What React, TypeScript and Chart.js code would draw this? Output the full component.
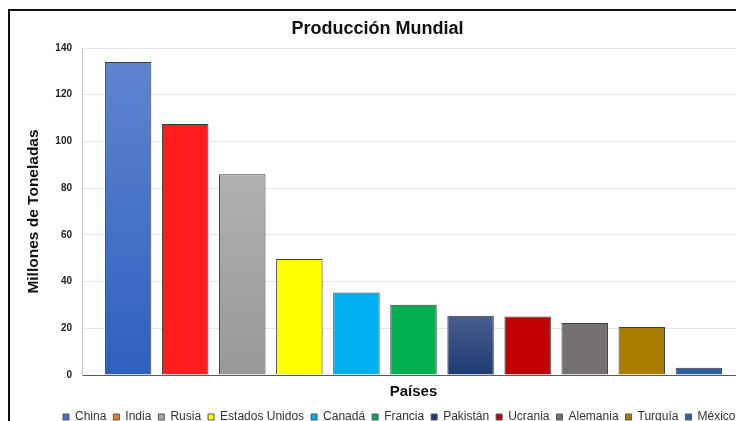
import { useEffect, useRef } from 'react';
import { Chart, registerables } from 'chart.js';

Chart.register(...registerables);

// Production by country (millions of tonnes)
const countries = [
  'China', 'India', 'Rusia', 'Estados Unidos', 'Canadá', 'Francia',
  'Pakistán', 'Ucrania', 'Alemania', 'Turquía', 'México',
];
const production = [134.0, 107.5, 86.0, 49.7, 35.3, 30.1, 25.4, 25.0, 22.3, 20.6, 3.1];

// Bar fills: top and bottom of a vertical gradient (equal means flat colour)
const barTopColors = [
  '#5f83cf', '#ff1c1c', '#b0b0b0', '#ffff00', '#00b0f0', '#00b050',
  '#4a5f8e', '#c00000', '#767171', '#a97e00', '#2e5f9c',
];
const barBottomColors = [
  '#2f60bf', '#ff1c1c', '#989898', '#ffff00', '#00b0f0', '#00b050',
  '#1d3a72', '#c00000', '#767171', '#a97e00', '#2e5f9c',
];
// Legend swatches
const legendColors = [
  '#4472c4', '#ed7d31', '#a5a5a5', '#ffff00', '#00b0f0', '#00b050',
  '#1f3b73', '#c00000', '#767171', '#a97e00', '#2e5f9c',
];

const yMin = 0;
const yMax = 140;
const yStep = 20;

const FONT = "'Liberation Sans', Arial, sans-serif";
const LEGEND_START_X = 53;

// Place the legend row at a fixed starting x instead of centring it
const legendOffset = {
  id: 'legendOffset',
  afterLayout(chart: any) {
    const lg = chart.legend;
    if (!lg) return;
    const pad = lg.options.labels.padding;
    const dx = LEGEND_START_X - pad - lg.left;
    lg.left += dx;
    lg.right += dx + 60;
  },
};

export default function App() {
  const canvasRef = useRef<HTMLCanvasElement | null>(null);

  useEffect(() => {
    const canvas = canvasRef.current;
    if (!canvas) return;

    const datasets = countries.map((name, i) => ({
      label: name,
      data: [production[i]],
      backgroundColor: (ctx: any) => {
        const chart = ctx.chart;
        const area = chart.chartArea;
        if (!area || barTopColors[i] === barBottomColors[i]) return barTopColors[i];
        const y = chart.scales.y;
        const top = y.getPixelForValue(production[i]);
        const base = y.getPixelForValue(0);
        const g = chart.ctx.createLinearGradient(0, top, 0, base);
        g.addColorStop(0, barTopColors[i]);
        g.addColorStop(1, barBottomColors[i]);
        return g;
      },
      borderColor: '#3c3c3c',
      borderWidth: 1,
      categoryPercentage: 0.947,
      barPercentage: 0.814,
    }));

    const chart = new Chart(canvas, {
      type: 'bar',
      data: { labels: [''], datasets },
      plugins: [legendOffset],
      options: {
        responsive: false,
        animation: false,
        layout: { padding: { left: 0, right: 1, top: 0, bottom: 0 } },
        plugins: {
          tooltip: { enabled: false },
          title: {
            display: true,
            text: 'Producción Mundial',
            color: '#111',
            font: { family: FONT, size: 18, weight: 'bold' },
            padding: { top: 7.5, bottom: 7.9 },
          },
          legend: {
            display: true,
            position: 'bottom',
            align: 'start',
            labels: {
              boxWidth: 6,
              boxHeight: 6,
              padding: 7,
              color: '#333',
              font: { family: FONT, size: 12 },
              generateLabels: () =>
                countries.map((name, i) => ({
                  text: name,
                  fillStyle: legendColors[i],
                  strokeStyle: '#555',
                  lineWidth: 1,
                  hidden: false,
                  datasetIndex: i,
                  fontColor: '#333',
                })),
            },
          },
        },
        scales: {
          x: {
            type: 'category',
            grid: { display: false, drawTicks: false },
            ticks: { display: false },
            border: { display: true, color: '#5a5a5a', width: 1 },
            title: {
              display: true,
              text: 'Países',
              color: '#111',
              font: { family: FONT, size: 15, weight: 'bold' },
              padding: { top: 8, bottom: 3 },
            },
          },
          y: {
            min: yMin,
            max: yMax,
            afterFit: (scale: any) => {
              scale.width = 72;
            },
            ticks: {
              stepSize: yStep,
              padding: 10,
              color: '#222',
              font: { family: FONT, size: 10, weight: 'bold' },
            },
            grid: { color: '#e6e8ef', lineWidth: 1, drawTicks: false },
            border: { display: true, color: '#c4c4c4', width: 1 },
            title: {
              display: true,
              text: 'Millones de Toneladas',
              color: '#111',
              font: { family: FONT, size: 15.5, weight: 'bold' },
              padding: { top: 14.7, bottom: 0 },
            },
          },
        },
      },
    });

    return () => chart.destroy();
  }, []);

  return (
    <div
      style={{
        position: 'fixed',
        left: 8,
        top: 8,
        width: 728,
        height: 413,
        overflow: 'hidden',
        background: '#fff',
      }}
    >
      <div
        style={{
          marginTop: 1,
          width: 740,
          border: '2px solid #111',
          background: '#fff',
        }}
      >
        <canvas ref={canvasRef} width={736} height={422} style={{ display: 'block' }} />
      </div>
    </div>
  );
}
